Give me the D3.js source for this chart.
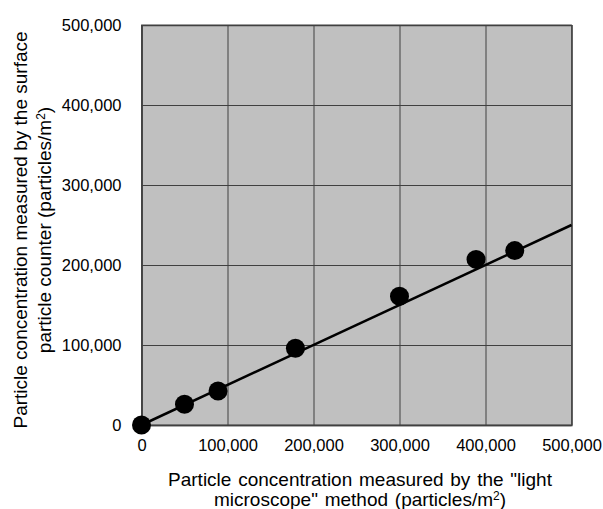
<!DOCTYPE html>
<html><head><meta charset="utf-8">
<script src="https://cdn.jsdelivr.net/npm/d3@7"></script>
<style>body{margin:0;background:#fff}svg{display:block}text{font-family:"Liberation Sans",Arial,sans-serif;fill:#000}</style>
</head><body><div id="c"></div>
<script>
const xValues = [0, 50000, 89000, 179000, 300000, 389000, 434000];
const yValues = [0, 26000, 42500, 96000, 161000, 207000, 218000];
const fitLine = [[0, 0], [500000, 250000]];
const xTicks = [0, 100000, 200000, 300000, 400000, 500000];
const yTicks = [0, 100000, 200000, 300000, 400000, 500000];

const W = 603, H = 509;
const m = {left: 141.5, top: 25, right: 603 - 571.5, bottom: 509 - 425};
const svg = d3.select("#c").append("svg").attr("width", W).attr("height", H);
const x = d3.scaleLinear().domain([0, 500000]).range([m.left, W - m.right]);
const y = d3.scaleLinear().domain([0, 500000]).range([H - m.bottom, m.top]);
const fmt = d3.format(",");

svg.append("rect").attr("x", x(0)).attr("y", y(500000))
  .attr("width", x(500000) - x(0)).attr("height", y(0) - y(500000))
  .attr("fill", "#c0c0c0").attr("stroke", "#7f7f7f").attr("stroke-width", 1);

const gx = svg.append("g").attr("transform", `translate(0,${y(0)})`)
  .call(d3.axisBottom(x).tickValues(xTicks).tickFormat(fmt).tickSize(-(y(0) - y(500000))).tickPadding(14));
const gy = svg.append("g").attr("transform", `translate(${x(0)},0)`)
  .call(d3.axisLeft(y).tickValues(yTicks).tickFormat(fmt).tickSize(-(x(500000) - x(0))).tickPadding(20));
[gx, gy].forEach(g => {
  g.select(".domain").attr("stroke", "#404040").attr("stroke-width", 1.3);
  g.selectAll(".tick line").attr("stroke", "#404040").attr("stroke-width", 1);
  g.selectAll(".tick text").attr("font-size", 16.5).attr("font-family", "Liberation Sans, Arial, sans-serif").attr("fill", "#000");
});
gy.selectAll(".tick text").attr("dy", "0.35em");

const line = d3.line().x(d => x(d[0])).y(d => y(d[1]));
svg.append("path").datum(fitLine).attr("d", line).attr("fill", "none").attr("stroke", "#000").attr("stroke-width", 2.5);

svg.append("g").selectAll("circle").data(xValues.map((v, i) => [v, yValues[i]])).join("circle")
  .attr("cx", d => x(d[0])).attr("cy", d => y(d[1])).attr("r", 9.5).attr("fill", "#000");

// x title
const xt = svg.append("text").attr("text-anchor", "middle").attr("font-size", 19).attr("word-spacing", 1.5);
xt.append("tspan").attr("x", 360).attr("y", 486).text('Particle concentration measured by the "light');
const l2 = xt.append("tspan").attr("x", 360).attr("y", 506);
l2.append("tspan").text('microscope" method (particles/m');
l2.append("tspan").attr("dy", -6).attr("font-size", 12).text("2");
l2.append("tspan").attr("dy", 6).text(")");

// y title
const yt = svg.append("text").attr("text-anchor", "middle").attr("font-size", 19)
  .attr("transform", "translate(0,230) rotate(-90)");
yt.append("tspan").attr("x", 0).attr("y", 27).text("Particle concentration measured by the surface");
const y2 = yt.append("tspan").attr("x", 0).attr("y", 51);
y2.append("tspan").text("particle counter (particles/m");
y2.append("tspan").attr("dy", -6).attr("font-size", 12).text("2");
y2.append("tspan").attr("dy", 6).text(")");
</script></body></html>
